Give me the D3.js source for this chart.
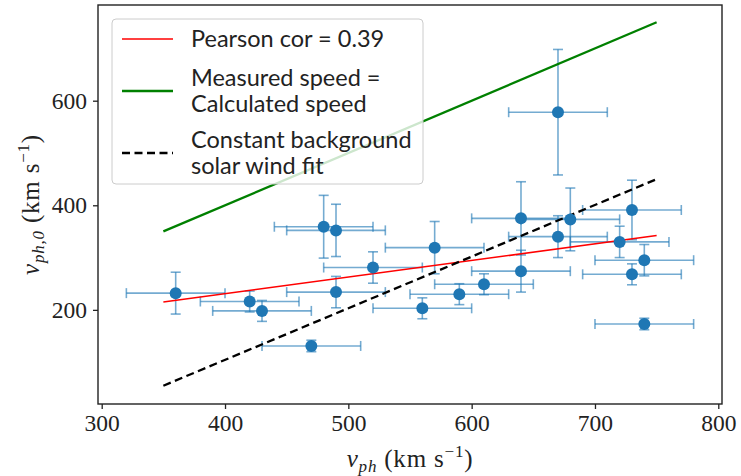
<!DOCTYPE html>
<html>
<head>
<meta charset="utf-8">
<script src="https://cdn.jsdelivr.net/npm/d3@7"></script>
<style>
  body { margin: 0; background: #fff; }
  .tick text { font-family: "Liberation Serif", "DejaVu Serif", serif; font-size: 23.5px; fill: #222; }
</style>
</head>
<body>
<div id="chart"></div>
<script>
// Dimensions
const W = 741, H = 476;
const margin = { top: 5, right: 19, bottom: 72, left: 98 };
const width = W - margin.left - margin.right;
const height = H - margin.top - margin.bottom;

// Data
const vph     = [360, 420, 430, 470, 480, 490, 490, 520, 560, 570, 590, 610, 640, 640, 670, 670, 680, 720, 730, 730, 740, 740];
const vph0    = [232, 216, 198, 131, 359, 352, 234, 281, 203, 319, 230, 249, 375, 274, 578, 340, 373, 330, 391, 268, 295, 173];
const xErr    = [40, 40, 40, 40, 40, 40, 40, 40, 40, 40, 40, 40, 40, 40, 40, 40, 40, 40, 40, 40, 40, 40];
const yErr    = [40, 20, 20, 11, 60, 50, 30, 30, 20, 50, 20, 20, 70, 40, 120, 40, 60, 30, 57, 20, 30, 11];
const pearsonLine  = [[350, 215], [750, 342]];
const equalLine    = [[350, 350], [750, 750]];
const constantLine = [[350, 55], [750, 450]];
const xTicks = [300, 400, 500, 600, 700, 800];
const yTicks = [200, 400, 600];
const legendLabels = [["Pearson cor = 0.39"], ["Measured speed =", "Calculated speed"], ["Constant background", "solar wind fit"]];

const points = vph.map((x, i) => ({ x, y: vph0[i], xe: xErr[i], ye: yErr[i] }));

const svg = d3.select("#chart").append("svg")
    .attr("width", W)
    .attr("height", H);

const g = svg.append("g")
    .attr("transform", `translate(${margin.left},${margin.top})`);

// Scales
const x = d3.scaleLinear().domain([297, 803]).range([0, width]);
const y = d3.scaleLinear().domain([20, 783]).range([height, 0]);

// Axes
const xAxis = g.append("g")
    .attr("transform", `translate(0,${height})`)
    .call(d3.axisBottom(x).tickValues(xTicks).tickSize(5).tickPadding(5));
const yAxis = g.append("g")
    .call(d3.axisLeft(y).tickValues(yTicks).tickSize(5).tickPadding(6));
[xAxis, yAxis].forEach(a => {
    a.select(".domain").remove();
    a.selectAll(".tick line").attr("stroke", "#222").attr("stroke-width", 1.3);
});

const blue = "#1f77b4";

// Error bars
const eb = g.append("g")
    .attr("stroke", blue)
    .attr("stroke-opacity", 0.62)
    .attr("stroke-width", 1.6);
const cap = 5;
points.forEach(d => {
    const cx = x(d.x), cy = y(d.y);
    const x0 = x(d.x - d.xe), x1 = x(d.x + d.xe);
    const y0 = y(d.y - d.ye), y1 = y(d.y + d.ye);
    eb.append("line").attr("x1", x0).attr("x2", x1).attr("y1", cy).attr("y2", cy);
    eb.append("line").attr("x1", cx).attr("x2", cx).attr("y1", y0).attr("y2", y1);
    eb.append("line").attr("x1", x0).attr("x2", x0).attr("y1", cy - cap).attr("y2", cy + cap);
    eb.append("line").attr("x1", x1).attr("x2", x1).attr("y1", cy - cap).attr("y2", cy + cap);
    eb.append("line").attr("x1", cx - cap).attr("x2", cx + cap).attr("y1", y0).attr("y2", y0);
    eb.append("line").attr("x1", cx - cap).attr("x2", cx + cap).attr("y1", y1).attr("y2", y1);
});

// Lines
const line = d3.line().x(d => x(d[0])).y(d => y(d[1]));
g.append("path").datum(pearsonLine).attr("d", line)
    .attr("fill", "none").attr("stroke", "#ff0000").attr("stroke-width", 1.5);
g.append("path").datum(equalLine).attr("d", line)
    .attr("fill", "none").attr("stroke", "#008000").attr("stroke-width", 2.3);
g.append("path").datum(constantLine).attr("d", line)
    .attr("fill", "none").attr("stroke", "#000").attr("stroke-width", 2.3)
    .attr("stroke-dasharray", "8,4.5");

// Markers
g.append("g").selectAll("circle")
    .data(points)
    .enter().append("circle")
    .attr("cx", d => x(d.x))
    .attr("cy", d => y(d.y))
    .attr("r", 6)
    .attr("fill", blue);

// Frame
g.append("rect")
    .attr("width", width).attr("height", height)
    .attr("fill", "none").attr("stroke", "#222").attr("stroke-width", 1.4);

// Legend
const legend = g.append("g").attr("transform", "translate(14,14)");
legend.append("rect")
    .attr("width", 311).attr("height", 165)
    .attr("rx", 4)
    .attr("fill", "#fff").attr("fill-opacity", 0.8)
    .attr("stroke", "#ccc").attr("stroke-width", 1);
const handles = [
    { y: 20, stroke: "#ff0000", w: 1.5, dash: null },
    { y: 72, stroke: "#008000", w: 2.3, dash: null },
    { y: 134, stroke: "#000", w: 2.3, dash: "8,4.5" }
];
handles.forEach((h, i) => {
    legend.append("line")
        .attr("x1", 10).attr("x2", 61)
        .attr("y1", h.y).attr("y2", h.y)
        .attr("stroke", h.stroke).attr("stroke-width", h.w)
        .attr("stroke-dasharray", h.dash);
    const lines = legendLabels[i];
    const t = legend.append("text")
        .attr("font-family", "Lato, 'Open Sans', sans-serif")
        .attr("font-size", 23.5)
        .attr("fill", "#222");
    lines.forEach((s, j) => {
        t.append("tspan")
            .attr("x", 79)
            .attr("y", h.y + 8 + (j - (lines.length - 1) / 2) * 26)
            .text(s);
    });
});

// Axis labels
function label(sel, sub) {
    sel.attr("font-family", "'Liberation Serif', 'DejaVu Serif', serif")
        .attr("font-size", 25)
        .attr("letter-spacing", 0.8)
        .attr("fill", "#222");
    sel.append("tspan").attr("font-style", "italic").text("v");
    sel.append("tspan").attr("font-style", "italic").attr("font-size", 17).attr("dy", 5).text(sub);
    sel.append("tspan").attr("dy", -5).text(" (km s");
    sel.append("tspan").attr("font-size", 17).attr("dy", -10).text("−1");
    sel.append("tspan").attr("dy", 10).text(")");
}
svg.append("text")
    .attr("x", margin.left + width / 2)
    .attr("y", 467)
    .attr("text-anchor", "middle")
    .call(label, "ph");
svg.append("text")
    .attr("transform", `translate(39,${margin.top + height / 2}) rotate(-90)`)
    .attr("text-anchor", "middle")
    .call(label, "ph,0");
</script>
</body>
</html>
